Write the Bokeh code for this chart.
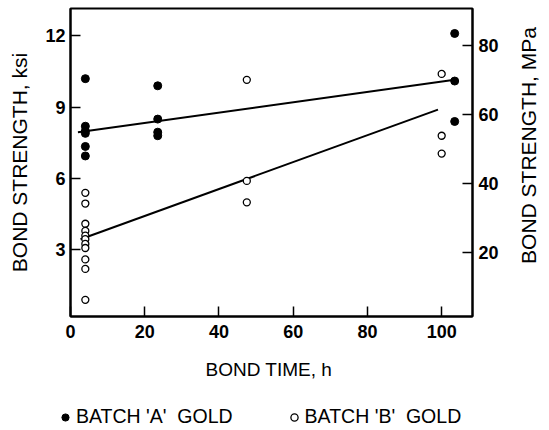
from bokeh.plotting import figure
from bokeh.layouts import column, row
from bokeh.models import Range1d, LinearAxis, FixedTicker, Legend, LegendItem
from bokeh.embed import file_html
from bokeh.resources import INLINE

KSI_TO_MPA = 6.895

# Batch 'A' gold (filled)
a_time = [4, 4, 4, 4, 4, 4, 23.5, 23.5, 23.5, 23.5, 103.5, 103.5, 103.5]
a_ksi = [10.2, 8.2, 8.0, 7.9, 7.35, 6.95, 9.9, 8.5, 7.95, 7.8, 12.1, 10.1, 8.4]

# Batch 'B' gold (open)
b_time = [4, 4, 4, 4, 4, 4, 4, 4, 4, 4, 4, 47.5, 47.5, 47.5, 100, 100, 100]
b_ksi = [5.4, 4.95, 4.1, 3.8, 3.6, 3.45, 3.25, 3.08, 2.6, 2.2, 0.9,
         10.15, 5.9, 5.0, 10.4, 7.8, 7.05]

# Fit lines (end points)
fit_a_time = [2, 103.5]
fit_a_ksi = [7.95, 10.15]
fit_b_time = [2.7, 99]
fit_b_ksi = [3.45, 8.9]

x_ticks = [0, 20, 40, 60, 80, 100]
ksi_ticks = [3, 6, 9, 12]
mpa_ticks = [20, 40, 60, 80]

series_labels = ["BATCH 'A'  GOLD", "BATCH 'B'  GOLD"]

Y0, Y1 = 0.2, 13.15
FONT = "Liberation Sans"

p = figure(width=513, height=390, output_backend="svg", toolbar_location=None,
           x_range=Range1d(0, 108.3), y_range=Range1d(Y0, Y1),
           min_border_left=70, min_border_right=41, min_border_top=8,
           min_border_bottom=74)
p.frame_align = False
p.extra_y_ranges = {"mpa": Range1d(Y0 * KSI_TO_MPA, Y1 * KSI_TO_MPA)}

p.grid.visible = False
p.outline_line_color = "black"
p.outline_line_width = 2
p.background_fill_color = "white"
p.border_fill_color = "white"

la = p.line(fit_a_time, fit_a_ksi, line_color="black", line_width=2)
lb = p.line(fit_b_time, fit_b_ksi, line_color="black", line_width=2)
A_STYLE = dict(marker="circle", fill_color="black", line_color="black")
B_STYLE = dict(marker="circle", fill_color="white", line_color="black", line_width=1.3)
ra = p.scatter(a_time, a_ksi, size=8, **A_STYLE)
rb = p.scatter(b_time, b_ksi, size=7, **B_STYLE)

def style(ax):
    ax.axis_line_width = 2
    ax.axis_line_color = "black"
    ax.major_tick_in = 10
    ax.major_tick_out = 0
    ax.minor_tick_line_color = None
    ax.major_tick_line_width = 1.5
    ax.major_label_text_font = FONT
    ax.major_label_text_font_size = "18px"
    ax.major_label_text_font_style = "bold"
    ax.major_label_text_color = "black"
    ax.axis_label_text_font = FONT
    ax.axis_label_text_font_size = "21px"
    ax.axis_label_text_font_style = "normal"
    ax.axis_label_text_color = "black"

xa = p.xaxis[0]
style(xa)
xa.ticker = FixedTicker(ticks=x_ticks)
xa.axis_label = "BOND TIME,  h"
xa.axis_label_text_font_size = "19px"
xa.major_label_standoff = 8
xa.axis_label_standoff = 18

ya = p.yaxis[0]
style(ya)
ya.ticker = FixedTicker(ticks=ksi_ticks)
ya.axis_label = "BOND STRENGTH, ksi"
ya.major_label_standoff = 5
ya.axis_label_standoff = 11

# right axis: MPa ticks
yr = LinearAxis(y_range_name="mpa", ticker=FixedTicker(ticks=mpa_ticks))
style(yr)
yr.major_label_standoff = 6
p.add_layout(yr, "right")

# legend strip below the chart
q = figure(width=513, height=40, output_backend="svg", toolbar_location=None,
           x_range=Range1d(0, 1), y_range=Range1d(0, 1),
           x_axis_location=None, y_axis_location=None,
           min_border_left=0, min_border_right=0, min_border_top=0, min_border_bottom=0)
q.frame_align = False
q.grid.visible = False
q.outline_line_color = None
qa = q.scatter(a_time, a_ksi, **A_STYLE)
qb = q.scatter(b_time, b_ksi, **B_STYLE)
legend = Legend(items=[LegendItem(label=series_labels[0], renderers=[qa]),
                       LegendItem(label=series_labels[1], renderers=[qb])],
                orientation="horizontal", location=(56, 2))
legend.label_text_font = FONT
legend.label_text_font_size = "19.5px"
legend.label_text_color = "black"
legend.border_line_color = None
legend.background_fill_alpha = 0
legend.glyph_width = 18
legend.glyph_height = 18
legend.label_standoff = 2
legend.spacing = 52
legend.margin = 0
legend.padding = 2
q.add_layout(legend, "center")

# strip on the right carrying the MPa axis title (reads bottom-to-top)
r = figure(width=36, height=430, output_backend="svg", toolbar_location=None,
           x_range=Range1d(0, 1), y_range=Range1d(Y0 * KSI_TO_MPA, Y1 * KSI_TO_MPA),
           x_axis_location=None,
           min_border_left=0, min_border_right=0, min_border_top=0, min_border_bottom=140)
r.frame_align = False
r.grid.visible = False
r.outline_line_color = None
ry = r.yaxis[0]
style(ry)
ry.ticker = FixedTicker(ticks=[])
ry.axis_line_color = None
ry.major_tick_line_color = None
ry.axis_label = "BOND STRENGTH, MPa"
ry.axis_label_standoff = 2

layout = row(column(p, q, spacing=0), r, spacing=0)
open("out.html", "w").write(file_html(layout, INLINE))
